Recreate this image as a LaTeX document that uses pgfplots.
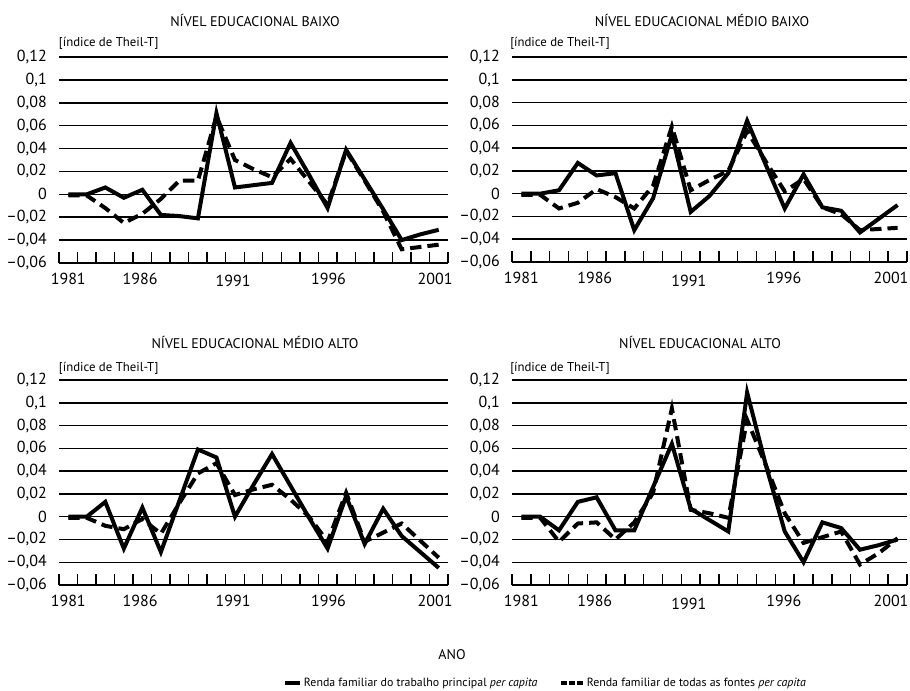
\documentclass[border=0pt]{standalone}
\usepackage{pgfplots}
\pgfplotsset{compat=1.18}
\usepackage{pgfplotstable}
\usepackage{fontspec}
\setmainfont{PT Sans}

\pgfplotstableread{
i s d
0 0 -0.001
1 0 -0.001
2 0.006 -0.012
3 -0.003 -0.025
4 0.004 -0.017
5 -0.018 -0.004
6 -0.019 0.012
7 -0.021 0.012
8 0.071 0.068
9 0.006 0.030
10 0.008 0.022
11 0.010 0.015
12 0.045 0.031
13 0.017 0.011
14 -0.012 -0.009
15 0.039 0.038
16 0.013 0.012
17 -0.013 -0.015
18 -0.040 -0.048
19 -0.035 -0.046
20 -0.031 -0.044
}\dataA

\pgfplotstableread{
i s d
0 0 -0.001
1 0 -0.001
2 0.003 -0.013
3 0.027 -0.008
4 0.016 0.004
5 0.018 -0.003
6 -0.032 -0.013
7 -0.004 0.007
8 0.052 0.059
9 -0.016 0.003
10 -0.002 0.012
11 0.018 0.020
12 0.064 0.055
13 0.025 0.028
14 -0.013 0.002
15 0.017 0.013
16 -0.012 -0.012
17 -0.015 -0.018
18 -0.034 -0.032
19 -0.022 -0.031
20 -0.010 -0.030
}\dataB

\pgfplotstableread{
i s d
0 0 -0.001
1 0 -0.001
2 0.013 -0.008
3 -0.028 -0.011
4 0.008 -0.002
5 -0.031 -0.015
6 0.014 0.012
7 0.059 0.038
8 0.052 0.047
9 0.000 0.019
10 0.028 0.024
11 0.055 0.028
12 0.027 0.015
13 -0.001 0.000
14 -0.028 -0.022
15 0.018 0.021
16 -0.024 -0.022
17 0.007 -0.014
18 -0.017 -0.006
19 -0.031 -0.021
20 -0.045 -0.036
}\dataC

\pgfplotstableread{
i s d
0 0 -0.001
1 0 -0.001
2 -0.012 -0.022
3 0.013 -0.006
4 0.017 -0.005
5 -0.012 -0.020
6 -0.012 -0.005
7 0.026 0.021
8 0.064 0.095
9 0.007 0.006
10 -0.003 0.003
11 -0.013 -0.001
12 0.109 0.085
13 0.045 0.045
14 -0.013 0.003
15 -0.040 -0.023
16 -0.005 -0.018
17 -0.010 -0.013
18 -0.029 -0.042
19 -0.025 -0.032
20 -0.020 -0.019
}\dataD

\pgfplotsset{
  panel/.style={
    scale only axis,
    xmin=-0.5, xmax=20.5, ymin=-0.06, ymax=0.12,
    axis x line*=bottom, axis y line*=left,
    y axis line style={draw=none},
    x axis line style={line width=1.3pt},
    ytick={-0.06,-0.04,-0.02,0,0.02,0.04,0.06,0.08,0.1,0.12},
    yticklabels={{–0,06},{–0,04},{–0,02},{0},{0,02},{0,04},{0,06},{0,08},{0,1},{0,12}},
    ymajorgrids, grid style={black, line width=1.1pt},
    ytick style={draw=none},
    minor xtick={-0.5,0.5,...,20.5},
    tick align=inside,
    major tick length=0pt,
    minor tick length=8.25pt,
    minor tick style={line width=1.1pt, black},
    yticklabel style={font=\fontsize{12}{14}\selectfont, inner sep=0pt, xshift=-9pt, anchor=east},
    xticklabel style={font=\fontsize{12}{14}\selectfont, inner sep=0pt, anchor=north, text height=8.6pt, text depth=0pt, yshift=-7pt},
    clip=false,
  },
  sl/.style={black, line width=3pt},
  dl/.style={black, line width=3pt, dash pattern=on 8.5pt off 4.5pt},
}

\begin{document}
\begin{tikzpicture}
\path[use as bounding box] (0,0) rectangle (682.5pt,-517.5pt);

\begin{axis}[panel, at={(44.25pt,-197.25pt)}, anchor=south west, width=291.75pt, height=154.5pt,
  xtick={0,3.88,8.9,14.05,19.8},
  xticklabels={1981,1986,\raisebox{-2pt}{1991},1996,2001}]
\addplot[sl] table[x=i,y=s]{\dataA};
\addplot[dl] table[x=i,y=d]{\dataA};
\end{axis}

\begin{axis}[panel, at={(384pt,-196.5pt)}, anchor=south west, width=296.25pt, height=153.75pt,
  xtick={0,3.9,8.9,13.95,19.65},
  xticklabels={1981,1986,\raisebox{-2.5pt}{1991},1996,2001}]
\addplot[sl] table[x=i,y=s]{\dataB};
\addplot[dl] table[x=i,y=d]{\dataB};
\end{axis}

\begin{axis}[panel, at={(44.25pt,-438.75pt)}, anchor=south west, width=291.75pt, height=153.75pt,
  xtick={0,3.88,8.9,14.05,19.8},
  xticklabels={1981,1986,1991,1996,2001},
  legend columns=2,
  legend style={at={(0.576,-0.478)}, anchor=west, draw=none, fill=none, inner sep=0pt,
    nodes={inner sep=1.5pt, font=\fontsize{8.9}{10}\selectfont},
    /tikz/every even column/.append style={column sep=15pt}}]
\addplot[sl, legend image code/.code={\draw[black, line width=3pt] (0pt,0pt) -- (11pt,0pt);}] table[x=i,y=s]{\dataC};
\addlegendentry{Renda familiar do trabalho principal \textit{per capita}}
\addplot[dl, legend image code/.code={\draw[black, line width=3pt, dash pattern=on 4pt off 2pt] (0pt,0pt) -- (16pt,0pt);}] table[x=i,y=d]{\dataC};
\addlegendentry{Renda familiar de todas as fontes \textit{per capita}}
\end{axis}

\begin{axis}[panel, at={(384pt,-438.75pt)}, anchor=south west, width=296.25pt, height=153.75pt,
  xtick={0,3.9,8.9,13.95,19.65},
  xticklabels={1981,1986,\raisebox{-2.5pt}{1991},1996,2001}]
\addplot[sl] table[x=i,y=s]{\dataD};
\addplot[dl] table[x=i,y=d]{\dataD};
\end{axis}

\begin{scope}[every node/.style={font=\fontsize{10.5}{12}\selectfont, inner sep=0pt}]
\node at (191.25pt,-15pt) {NÍVEL EDUCACIONAL BAIXO};
\node at (526.5pt,-15pt) {NÍVEL EDUCACIONAL MÉDIO BAIXO};
\node at (191.25pt,-256.5pt) {NÍVEL EDUCACIONAL MÉDIO ALTO};
\node at (525pt,-256.5pt) {NÍVEL EDUCACIONAL ALTO};
\node at (339pt,-491.25pt) {ANO};
\end{scope}
\begin{scope}[every node/.style={font=\fontsize{9.6}{11}\selectfont, inner sep=0pt, anchor=west}]
\node at (44pt,-32.25pt) {[índice de Theil-T]};
\node at (382.5pt,-32.25pt) {[índice de Theil-T]};
\node at (44pt,-276pt) {[índice de Theil-T]};
\node at (382.5pt,-276pt) {[índice de Theil-T]};
\end{scope}
\end{tikzpicture}
\end{document}
